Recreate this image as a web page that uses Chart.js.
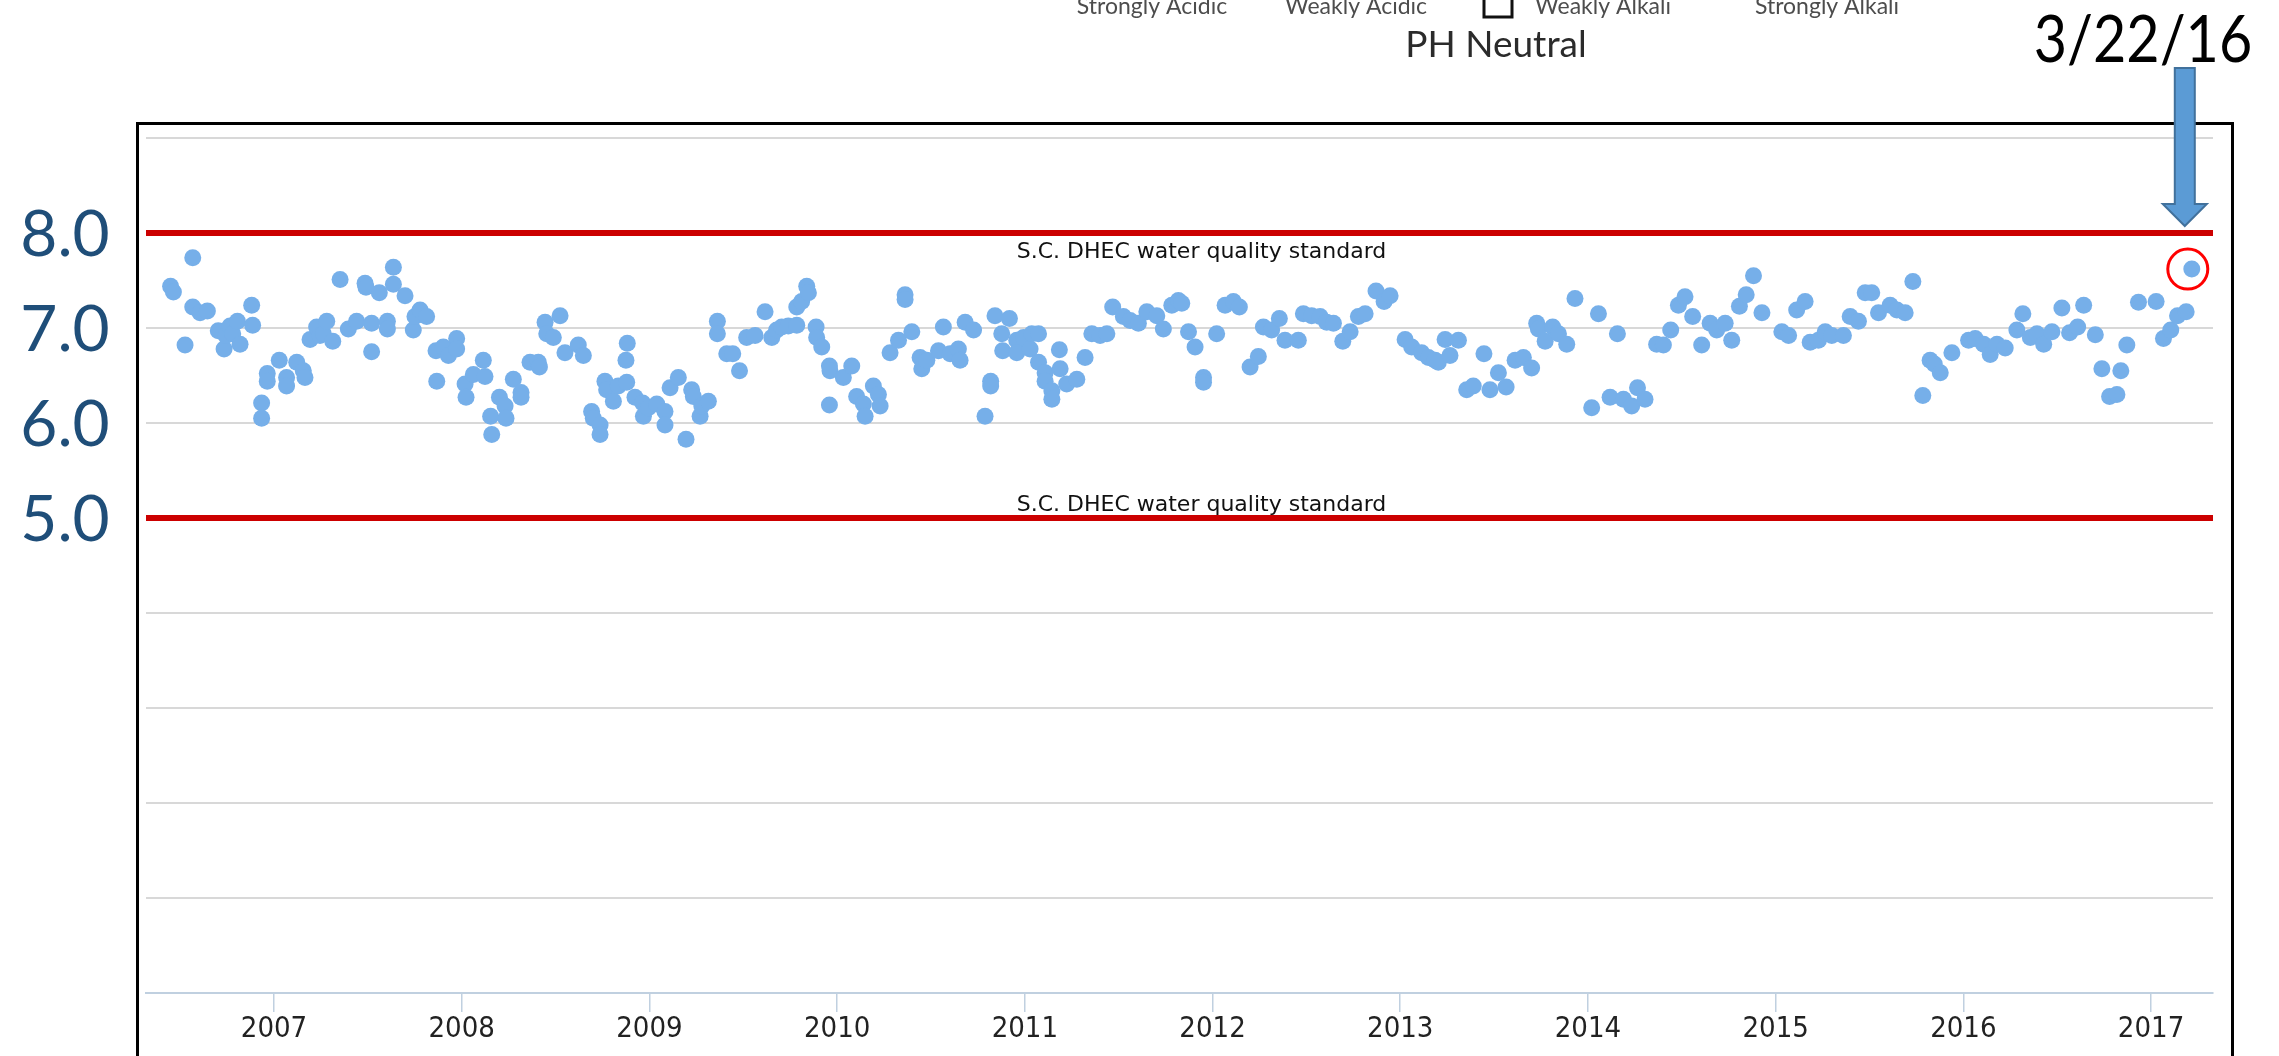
<!DOCTYPE html>
<html>
<head>
<meta charset="utf-8">
<title>pH readings</title>
<script src="https://cdn.jsdelivr.net/npm/chart.js@4.4.1/dist/chart.umd.min.js"></script>
<style>
  html, body { margin: 0; padding: 0; background: #fff; }
  canvas { display: block; }
</style>
</head>
<body>
<canvas id="chart" width="2279" height="1056"></canvas>
<script>
/*
    pH readings with the S.C. DHEC standard lines (5.0 - 8.0).
*/

// Sample dates, as decimal years
const sampleDates = [
  2006.449, 2006.464, 2006.526, 2006.567, 2006.567, 2006.606, 2006.645, 2006.703, 2006.734, 2006.744,
  2006.766, 2006.780, 2006.805, 2006.819, 2006.881, 2006.886, 2006.934, 2006.934, 2006.964, 2006.964,
  2007.028, 2007.067, 2007.067, 2007.121, 2007.156, 2007.165, 2007.192, 2007.227, 2007.245, 2007.263,
  2007.281, 2007.313, 2007.352, 2007.396, 2007.440, 2007.485, 2007.490, 2007.520, 2007.520, 2007.561,
  2007.604, 2007.604, 2007.636, 2007.636, 2007.698, 2007.742, 2007.751, 2007.778, 2007.813, 2007.863,
  2007.867, 2007.902, 2007.929, 2007.973, 2007.973, 2008.018, 2008.023, 2008.062, 2008.115, 2008.124,
  2008.154, 2008.160, 2008.201, 2008.231, 2008.236, 2008.275, 2008.316, 2008.316, 2008.364, 2008.408,
  2008.414, 2008.444, 2008.453, 2008.488, 2008.524, 2008.550,
  2008.621, 2008.648, 2008.692, 2008.701, 2008.737, 2008.737, 2008.763, 2008.772, 2008.808, 2008.834,
  2008.875, 2008.879, 2008.882, 2008.923, 2008.964, 2008.968, 2008.994, 2009.039, 2009.083, 2009.083,
  2009.110, 2009.154, 2009.195, 2009.225, 2009.234, 2009.270, 2009.279, 2009.314, 2009.362, 2009.362,
  2009.412, 2009.444, 2009.480, 2009.518, 2009.563, 2009.616, 2009.652, 2009.678, 2009.705, 2009.740,
  2009.785, 2009.785, 2009.811, 2009.838, 2009.847, 2009.888, 2009.891, 2009.918, 2009.959, 2009.959,
  2009.962, 2010.033, 2010.078, 2010.104, 2010.140, 2010.149, 2010.193, 2010.220, 2010.229, 2010.282,
  2010.327, 2010.362, 2010.362, 2010.398, 2010.442, 2010.451, 2010.478, 2010.540, 2010.566, 2010.602,
  2010.646, 2010.655, 2010.682, 2010.727,
  2010.788, 2010.818, 2010.818, 2010.841, 2010.877, 2010.882, 2010.918, 2010.957, 2010.957, 2010.993,
  2011.028, 2011.037, 2011.073, 2011.073, 2011.108, 2011.108, 2011.144, 2011.144, 2011.184, 2011.188,
  2011.223, 2011.277, 2011.321, 2011.357, 2011.401, 2011.437, 2011.468, 2011.525, 2011.561, 2011.605,
  2011.650, 2011.703, 2011.738, 2011.783, 2011.818, 2011.836, 2011.872, 2011.907, 2011.952, 2011.952,
  2012.022, 2012.067, 2012.111, 2012.143, 2012.200, 2012.244, 2012.271, 2012.315, 2012.356, 2012.386,
  2012.457, 2012.484, 2012.528, 2012.573, 2012.608, 2012.644, 2012.694, 2012.733, 2012.777, 2012.813,
  2012.871, 2012.914, 2012.946,
  2013.026, 2013.061, 2013.114, 2013.150, 2013.186, 2013.203, 2013.239, 2013.265, 2013.310, 2013.354,
  2013.389, 2013.446, 2013.478, 2013.523, 2013.564, 2013.612, 2013.656, 2013.700, 2013.727, 2013.736,
  2013.772, 2013.812, 2013.843, 2013.887, 2013.931, 2014.020, 2014.056, 2014.118, 2014.157, 2014.189,
  2014.233, 2014.264, 2014.304, 2014.366, 2014.402, 2014.441, 2014.482, 2014.517, 2014.558, 2014.606,
  2014.651, 2014.686, 2014.731, 2014.766, 2014.807, 2014.843, 2014.882, 2014.927, 2015.033, 2015.069,
  2015.112, 2015.157, 2015.184, 2015.228, 2015.264, 2015.299, 2015.361, 2015.397, 2015.441, 2015.477,
  2015.512, 2015.548, 2015.610, 2015.646, 2015.690, 2015.731, 2015.784, 2015.823, 2015.845, 2015.877,
  2015.939, 2016.028, 2016.063, 2016.108, 2016.143, 2016.179, 2016.223, 2016.285, 2016.317, 2016.357,
  2016.392, 2016.428, 2016.472, 2016.525, 2016.566, 2016.609, 2016.641, 2016.703, 2016.738, 2016.779,
  2016.818, 2016.839, 2016.871, 2016.933, 2017.027, 2017.066, 2017.105, 2017.141, 2017.187, 2017.217
];

// pH reading for each sample date
const phValues = [
  7.44, 7.38, 6.82, 7.74, 7.22, 7.16, 7.18, 6.97, 6.78, 6.92,
  7.02, 6.94, 7.07, 6.83, 7.24, 7.03, 6.21, 6.05, 6.52, 6.44,
  6.66, 6.48, 6.39, 6.64, 6.55, 6.48, 6.88, 7.01, 6.92, 6.94,
  7.07, 6.86, 7.51, 6.99, 7.07, 7.47, 7.43, 7.05, 6.75, 7.37,
  7.07, 6.99, 7.64, 7.46, 7.34, 6.98, 7.12, 7.19, 7.12, 6.76,
  6.44, 6.80, 6.71, 6.89, 6.78, 6.41, 6.27, 6.51, 6.66, 6.49,
  6.07, 5.88, 6.27, 6.18, 6.05, 6.46, 6.32, 6.27, 6.64, 6.64,
  6.59, 7.06, 6.94, 6.90, 7.13, 6.74,
  6.82, 6.71, 6.12, 6.05, 5.98, 5.88, 6.44, 6.35, 6.23, 6.39,
  6.66, 6.43, 6.84, 6.27, 6.21, 6.07, 6.16, 6.20, 6.12, 5.98,
  6.37, 6.48, 5.83, 6.35, 6.28, 6.07, 6.18, 6.23, 7.07, 6.94,
  6.73, 6.73, 6.55, 6.90, 6.92, 7.17, 6.90, 6.98, 7.01, 7.02,
  7.03, 7.22, 7.28, 7.44, 7.37, 7.01, 6.90, 6.80, 6.60, 6.19,
  6.55, 6.48, 6.60, 6.28, 6.20, 6.07, 6.39, 6.30, 6.18, 6.74,
  6.87, 7.35, 7.30, 6.96, 6.69, 6.57, 6.66, 6.76, 7.01, 6.73,
  6.78, 6.66, 7.06, 6.98,
  6.07, 6.44, 6.39, 7.13, 6.94, 6.76, 7.10, 6.87, 6.74, 6.90,
  6.78, 6.94, 6.94, 6.64, 6.53, 6.44, 6.34, 6.25, 6.77, 6.57,
  6.41, 6.46, 6.69, 6.94, 6.92, 6.94, 7.22, 7.12, 7.08, 7.05,
  7.17, 7.13, 6.99, 7.24, 7.29, 7.26, 6.96, 6.80, 6.48, 6.43,
  6.94, 7.24, 7.28, 7.22, 6.59, 6.70, 7.01, 6.98, 7.10, 6.87,
  6.87, 7.15, 7.13, 7.12, 7.06, 7.05, 6.86, 6.96, 7.12, 7.15,
  7.39, 7.28, 7.34,
  6.88, 6.80, 6.74, 6.69, 6.66, 6.64, 6.88, 6.71, 6.87, 6.35,
  6.39, 6.73, 6.35, 6.53, 6.38, 6.66, 6.69, 6.58, 7.05, 6.99,
  6.86, 7.01, 6.94, 6.83, 7.31, 6.16, 7.15, 6.27, 6.94, 6.25,
  6.18, 6.37, 6.25, 6.83, 6.82, 6.98, 7.24, 7.33, 7.12, 6.82,
  7.05, 6.98, 7.05, 6.87, 7.23, 7.35, 7.55, 7.16, 6.96, 6.92,
  7.19, 7.28, 6.85, 6.87, 6.96, 6.92, 6.92, 7.12, 7.07, 7.37,
  7.37, 7.16, 7.24, 7.19, 7.16, 7.49, 6.29, 6.66, 6.62, 6.53,
  6.74, 6.87, 6.89, 6.83, 6.72, 6.83, 6.79, 6.98, 7.15, 6.90,
  6.94, 6.83, 6.96, 7.21, 6.95, 7.01, 7.24, 6.93, 6.57, 6.28,
  6.30, 6.55, 6.82, 7.27, 7.28, 6.89, 6.98, 7.13, 7.17, 7.62
];

const yearTicks = [2007, 2008, 2009, 2010, 2011, 2012, 2013, 2014, 2015, 2016, 2017];
const dateRange = [2006.318, 2017.33];
const phRange = [0, 9];
const standardLimits = [8, 5];
const standardLabel = 'S.C. DHEC water quality standard';
const sideLabels = [8, 7, 6, 5];
const scaleNames = ['Strongly Acidic', 'Weakly Acidic', 'Weakly Alkali', 'Strongly Alkali'];
const neutralLabel = 'PH Neutral';
const calloutDate = '3/22/16';

// Frame, labels and call-outs drawn on top of the chart
const overlay = {
  id: 'overlay',
  beforeDraw(chart) {
    const ctx = chart.ctx;
    ctx.save();
    ctx.strokeStyle = '#000';
    ctx.lineWidth = 3;
    ctx.strokeRect(137.5, 123.5, 2095, 1000);
    ctx.restore();
  },
  afterDraw(chart) {
    const ctx = chart.ctx;
    const area = chart.chartArea;
    const x = chart.scales.x;
    const y = chart.scales.y;
    ctx.save();
    ctx.textAlign = 'center';
    ctx.textBaseline = 'alphabetic';

    // standard line labels
    ctx.font = '22px "DejaVu Sans"';
    ctx.fillStyle = '#111';
    const labelX = (area.left + area.right) / 2 + 22;
    ctx.fillText(standardLabel, labelX, y.getPixelForValue(standardLimits[0]) + 25);
    ctx.fillText(standardLabel, labelX, y.getPixelForValue(standardLimits[1]) - 7);

    // big pH labels on the left
    ctx.font = '64px Lato';
    ctx.fillStyle = '#1F4E79';
    sideLabels.forEach(v => {
      ctx.fillText(v.toFixed(1), 65, y.getPixelForValue(v) + 23);
    });

    // pasted scale legend at the top
    ctx.font = '23px Lato';
    ctx.fillStyle = '#4d4d4d';
    const legendX = [1152, 1356, 1603, 1827];
    scaleNames.forEach((s, i) => ctx.fillText(s, legendX[i], 14));
    ctx.strokeStyle = '#111';
    ctx.lineWidth = 3;
    ctx.strokeRect(1484, -12, 28, 29);
    ctx.font = '37px Lato';
    ctx.fillStyle = '#2b2b2b';
    ctx.fillText(neutralLabel, 1496, 57);

    // call-out for the last reading
    const last = sampleDates.length - 1;
    const px = x.getPixelForValue(sampleDates[last]);
    const py = y.getPixelForValue(phValues[last]);
    ctx.save();
    ctx.font = '66px Lato';
    ctx.fillStyle = '#000';
    ctx.translate(2143, 62);
    ctx.scale(0.87, 1);
    ctx.fillText(calloutDate, 0, 0);
    ctx.restore();

    const ax = px - 7;
    const tip = y.getPixelForValue(standardLimits[0]) - 7;
    ctx.beginPath();
    ctx.moveTo(ax - 10, 68);
    ctx.lineTo(ax + 10, 68);
    ctx.lineTo(ax + 10, tip - 22);
    ctx.lineTo(ax + 22, tip - 22);
    ctx.lineTo(ax, tip);
    ctx.lineTo(ax - 22, tip - 22);
    ctx.lineTo(ax - 10, tip - 22);
    ctx.closePath();
    ctx.fillStyle = '#5B9BD5';
    ctx.fill();
    ctx.strokeStyle = '#41719C';
    ctx.lineWidth = 2;
    ctx.stroke();

    ctx.beginPath();
    ctx.arc(px - 4, py, 20, 0, Math.PI * 2);
    ctx.strokeStyle = '#FF0000';
    ctx.lineWidth = 3;
    ctx.stroke();
    ctx.restore();
  }
};

const readings = sampleDates.map((d, i) => ({ x: d, y: phValues[i] }));

const standardSets = standardLimits.map(v => ({
  label: 'S.C. DHEC standard',
  data: [{ x: dateRange[0], y: v }, { x: dateRange[1], y: v }],
  showLine: true,
  borderColor: '#CC0000',
  borderWidth: 6,
  pointRadius: 0
}));

const config = {
  type: 'scatter',
  data: {
    datasets: [{
      label: 'pH',
      data: readings,
      backgroundColor: '#76AFE9',
      borderWidth: 0,
      pointRadius: 8.5,
      pointHoverRadius: 8.5
    }].concat(standardSets)
  },
  options: {
    responsive: false,
    animation: false,
    devicePixelRatio: 1,
    events: [],
    layout: { padding: { left: 146, right: 66, top: 138, bottom: 0 } },
    plugins: { legend: { display: false }, tooltip: { enabled: false } },
    scales: {
      x: {
        type: 'linear',
        min: dateRange[0],
        max: dateRange[1],
        afterBuildTicks: s => { s.ticks = yearTicks.map(v => ({ value: v })); },
        afterFit: s => { s.height = 63; },
        grid: { drawOnChartArea: false, color: '#C0D0E0', lineWidth: 1.5, tickLength: 19 },
        border: { color: '#C0D0E0', width: 2 },
        ticks: {
          padding: 0,
          color: '#222',
          maxRotation: 0,
          autoSkip: false,
          font: { family: '"DejaVu Sans Condensed", "DejaVu Sans", sans-serif', size: 29 },
          callback: v => String(v)
        }
      },
      y: {
        min: phRange[0],
        max: phRange[1],
        afterFit: s => { s.width = 0; },
        ticks: { display: false, stepSize: 1 },
        grid: {
          drawTicks: false,
          lineWidth: 2,
          color: c => (c.tick && c.tick.value === 0 ? 'rgba(0,0,0,0)' : '#D8D8D8')
        },
        border: { display: false }
      }
    }
  },
  plugins: [overlay]
};

new Chart(document.getElementById('chart'), config);
</script>
</body>
</html>
